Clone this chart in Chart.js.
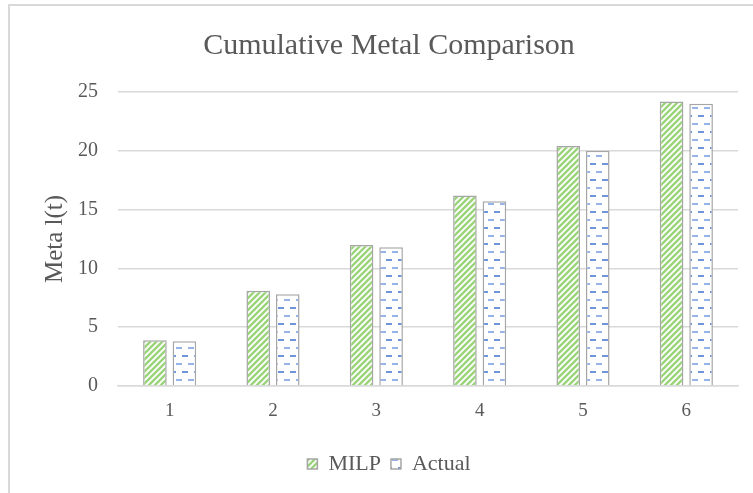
<!DOCTYPE html>
<html>
<head>
<meta charset="utf-8">
<script src="https://cdn.jsdelivr.net/npm/chart.js@4/dist/chart.umd.min.js"></script>
<style>
  html, body { margin: 0; padding: 0; background: #ffffff; }
  #wrap { width: 753px; height: 493px; }
</style>
</head>
<body>
<div id="wrap"><canvas id="chart" width="753" height="493"></canvas></div>
<script>
// Period labels and cumulative metal tonnage per series
const categories = ['1', '2', '3', '4', '5', '6'];
const milpValues = [3.9, 8.1, 12.0, 16.2, 20.4, 24.2];
const actualValues = [3.8, 7.8, 11.8, 15.7, 20.0, 24.0];
const yTickValues = [0, 5, 10, 15, 20, 25];

const textColor = '#595959';
const serif = "'Liberation Serif', 'Times New Roman', serif";

// Green diagonal hatch fill
function makeHatch() {
  const s = 6;
  const c = document.createElement('canvas');
  c.width = s; c.height = s;
  const g = c.getContext('2d');
  g.fillStyle = '#ffffff';
  g.fillRect(0, 0, s, s);
  g.strokeStyle = '#9bd47b';
  g.lineWidth = 2.4;
  g.beginPath();
  g.moveTo(-1, s + 1); g.lineTo(s + 1, -1);
  g.moveTo(-2, 2); g.lineTo(2, -2);
  g.moveTo(s - 2, s + 2); g.lineTo(s + 2, s - 2);
  g.stroke();
  return g.createPattern(c, 'repeat');
}

// Blue horizontal dash fill, staggered rows
function makeDashes() {
  const c = document.createElement('canvas');
  c.width = 12; c.height = 16;
  const g = c.getContext('2d');
  g.fillStyle = '#ffffff';
  g.fillRect(0, 0, 12, 16);
  g.fillStyle = '#6f95db';
  g.fillRect(2, 3, 6, 2);
  g.fillStyle = '#98b3e6';
  g.fillRect(8, 11, 4, 2);
  g.fillRect(0, 11, 2, 2);
  return g.createPattern(c, 'repeat');
}

// Light frame around the whole chart
const framePlugin = {
  id: 'frame',
  beforeDraw(chart) {
    const ctx = chart.ctx;
    ctx.save();
    ctx.fillStyle = '#ffffff';
    ctx.fillRect(0, 0, chart.width, chart.height);
    ctx.strokeStyle = '#d9d9d9';
    ctx.lineWidth = 2;
    ctx.strokeRect(9, 5, chart.width + 20, chart.height + 20);
    ctx.restore();
  }
};

const ctx = document.getElementById('chart').getContext('2d');
new Chart(ctx, {
  type: 'bar',
  data: {
    labels: categories,
    datasets: [
      {
        label: 'MILP',
        data: milpValues,
        backgroundColor: makeHatch(),
        borderColor: '#a6a6a6',
        borderWidth: 1.5,
        borderSkipped: 'bottom'
      },
      {
        label: 'Actual',
        data: actualValues,
        backgroundColor: makeDashes(),
        borderColor: '#a6a6a6',
        borderWidth: 1.5,
        borderSkipped: 'bottom'
      }
    ]
  },
  options: {
    responsive: false,
    animation: false,
    devicePixelRatio: 1,
    layout: { padding: { top: 28, left: 40, right: 15, bottom: 8 } },
    datasets: {
      bar: { categoryPercentage: 0.571, barPercentage: 0.8 }
    },
    plugins: {
      title: {
        display: true,
        text: 'Cumulative Metal Comparison',
        color: textColor,
        font: { family: serif, size: 30, weight: 'normal' },
        padding: { top: 0, bottom: 28 }
      },
      legend: {
        position: 'bottom',
        labels: {
          color: textColor,
          font: { family: serif, size: 22 },
          boxWidth: 10,
          boxHeight: 10,
          padding: 10
        }
      },
      tooltip: { enabled: false }
    },
    scales: {
      x: {
        grid: { display: false, drawTicks: false },
        border: { display: true, color: '#d9d9d9', width: 1.5 },
        ticks: { color: textColor, font: { family: serif, size: 19 }, padding: 14 },
        afterFit(scale) { scale.height = 57; }
      },
      y: {
        min: 0,
        max: 25,
        afterBuildTicks(scale) { scale.ticks = yTickValues.map(v => ({ value: v })); },
        grid: { color: '#d9d9d9', lineWidth: 1.5, drawTicks: false },
        border: { display: false },
        ticks: { color: textColor, font: { family: serif, size: 20 }, padding: 20 },
        title: {
          display: true,
          text: 'Meta l(t)',
          color: textColor,
          font: { family: serif, size: 25 },
          padding: { top: 0, bottom: 2 }
        },
        afterFit(scale) { scale.width = 78; }
      }
    }
  },
  plugins: [framePlugin]
});
</script>
</body>
</html>
